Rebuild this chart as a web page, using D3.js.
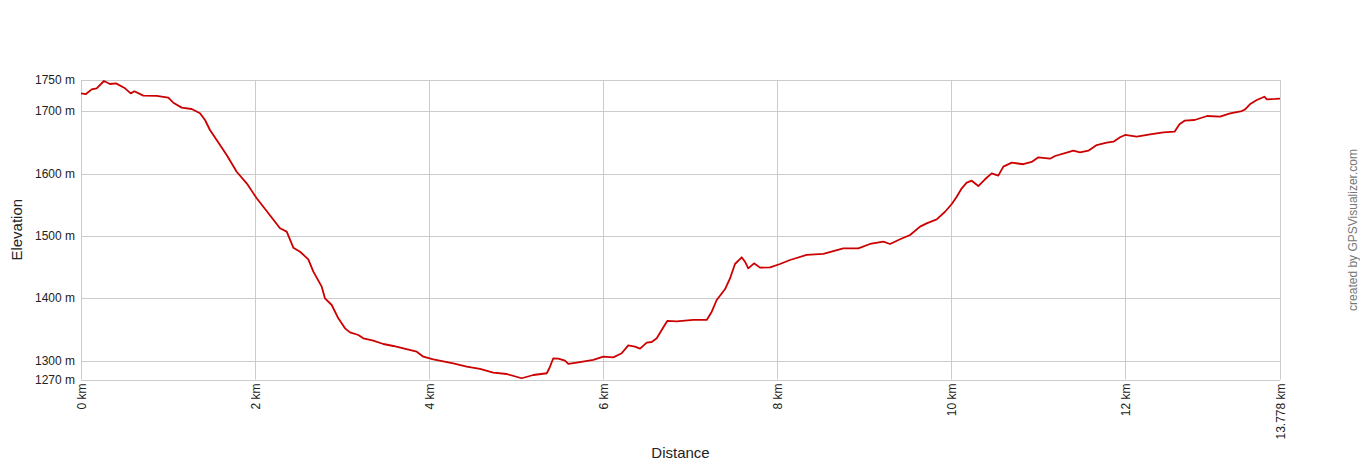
<!DOCTYPE html>
<html>
<head>
<meta charset="utf-8">
<script src="https://cdn.jsdelivr.net/npm/d3@7"></script>
<style>
html,body{margin:0;padding:0;background:#fff;}
svg{display:block;font-family:Arial,"Liberation Sans",sans-serif;}
</style>
</head>
<body>
<svg id="chart" width="1360" height="460"></svg>
<script>
// Distance along track (km)
const distances = [0,0.057,0.123,0.180,0.264,0.333,0.402,0.506,0.571,0.613,0.716,0.870,1.003,1.061,1.157,1.272,1.367,1.425,1.482,1.559,1.674,1.789,1.904,2.019,
2.287,2.364,2.440,2.517,2.612,2.670,2.766,2.804,2.881,2.957,3.034,3.091,3.187,3.244,3.359,3.474,3.589,3.704,3.858,3.934,4.048,4.278,4.432,4.585,4.738,4.892,5.064,5.198,5.352,5.382,5.427,5.485,5.562,5.600,5.715,
5.887,6.002,6.117,6.213,6.289,6.366,6.424,6.501,6.558,6.616,6.673,6.737,6.845,7.036,7.190,7.248,7.305,7.400,7.458,7.515,7.592,7.630,7.668,7.734,7.803,7.918,8.033,8.148,8.339,8.530,8.760,
8.932,9.067,9.220,9.297,9.412,9.527,9.642,9.718,9.833,9.929,10.006,10.063,10.121,10.178,10.236,10.311,10.388,10.465,10.541,10.599,10.695,10.828,10.925,11.001,11.135,11.193,11.327,11.403,11.480,11.576,11.672,11.787,11.864,11.940,11.998,12.132,12.285,12.439,12.566,12.623,12.681,12.796,12.942,13.089,13.205,13.339,13.377,13.435,13.512,13.598,13.628,13.724,13.778];
// Elevation (m)
const elevations = [1728.6,1727.5,1735,1736.7,1748.4,1743.6,1744.6,1736.7,1728.6,1731.9,1724.9,1724.4,1721.7,1713.7,1705.7,1703.5,1696.6,1685.9,1669.9,1653.8,1629.8,1603,1584.4,1560.4,
1512.3,1507,1481.3,1474.8,1462.6,1442.8,1418.8,1400,1389.4,1368,1352,1345.6,1341.3,1336,1332.2,1326.9,1323.7,1320,1314.6,1306.6,1302.4,1296,1290.6,1286.9,1281,1278.8,1272,1277.2,1280,1288,1304,1303.5,1300.3,1295,1297.6,
1301.3,1306.6,1305.5,1312,1324.8,1322.7,1319.5,1329.1,1330.1,1336,1349.4,1363.8,1363.3,1365.4,1365.4,1378.7,1397.4,1414.6,1432,1455.1,1465.8,1458.8,1448.2,1456.2,1449.3,1449.8,1455.1,1461.5,1469.6,1471.2,1480.2,
1480.2,1487.2,1490.9,1487.2,1494.7,1501.6,1515,1520.3,1526.7,1538.9,1551.3,1563,1576.4,1585.4,1588.6,1580.1,1590.9,1600.4,1596.8,1611.1,1617.5,1615,1618.6,1626.1,1623.9,1628.2,1633.5,1636.7,1634.1,1636.7,1645.8,1649.6,1651.2,1658.2,1661.9,1659.2,1663,1666.2,1667.2,1679,1684.8,1685.9,1692.3,1691.2,1696.6,1700.3,1703,1711.5,1717.9,1723.2,1719.1,1719.6,1720.1];
const yTicks = [1270,1300,1400,1500,1600,1700,1750];
const xTicks = [0,2,4,6,8,10,12,13.778];
const xTickLabels = ["0 km","2 km","4 km","6 km","8 km","10 km","12 km","13.778 km"];
const yLabel = "Elevation";
const xLabel = "Distance";
const credit = "created by GPSVisualizer.com";

const svg = d3.select("#chart");
const pLeft = 81, pRight = 1280, pTop = 80, pBottom = 379.5;
const x = d3.scaleLinear().domain([0, 13.778]).range([pLeft, pRight]);
const y = d3.scaleLinear().domain([1270, 1750]).range([pBottom, pTop]);

// grid
const g = svg.append("g");
g.selectAll("line.h").data(yTicks).join("line")
  .attr("x1", pLeft).attr("x2", pRight)
  .attr("y1", d => Math.round(y(d)) + 0.5).attr("y2", d => Math.round(y(d)) + 0.5)
  .attr("stroke", "#cccccc").attr("stroke-width", 1);
g.selectAll("line.v").data(xTicks).join("line")
  .attr("x1", d => Math.round(x(d)) + 0.5).attr("x2", d => Math.round(x(d)) + 0.5)
  .attr("y1", pTop).attr("y2", pBottom)
  .attr("stroke", "#cccccc").attr("stroke-width", 1);

// y tick labels
svg.append("g").selectAll("text").data(yTicks).join("text")
  .attr("x", 75).attr("y", d => y(d) + 4)
  .attr("text-anchor", "end").attr("font-size", 12).attr("fill", "#222")
  .text(d => d + " m");

// x tick labels
svg.append("g").selectAll("text").data(xTicks).join("text")
  .attr("transform", d => `translate(${x(d) + 4.5},${pBottom + 4}) rotate(-90)`)
  .attr("text-anchor", "end").attr("font-size", 12).attr("fill", "#222")
  .text((d, i) => xTickLabels[i]);

// axis titles
svg.append("text").attr("transform", `translate(22,${(pTop + pBottom) / 2}) rotate(-90)`)
  .attr("text-anchor", "middle").attr("font-size", 15).attr("fill", "#222").text(yLabel);
svg.append("text").attr("x", (pLeft + pRight) / 2).attr("y", 458)
  .attr("text-anchor", "middle").attr("font-size", 15).attr("fill", "#222").text(xLabel);
svg.append("text").attr("transform", `translate(1357,230) rotate(-90)`)
  .attr("text-anchor", "middle").attr("font-size", 12).attr("fill", "#777").text(credit);

// profile line
const pts = distances.map((d, i) => [d, elevations[i]]);
svg.append("path").datum(pts)
  .attr("fill", "none").attr("stroke", "#cc0000").attr("stroke-width", 1.8)
  .attr("stroke-linejoin", "round")
  .attr("d", d3.line().x(d => x(d[0])).y(d => y(d[1])));
</script>
</body>
</html>
